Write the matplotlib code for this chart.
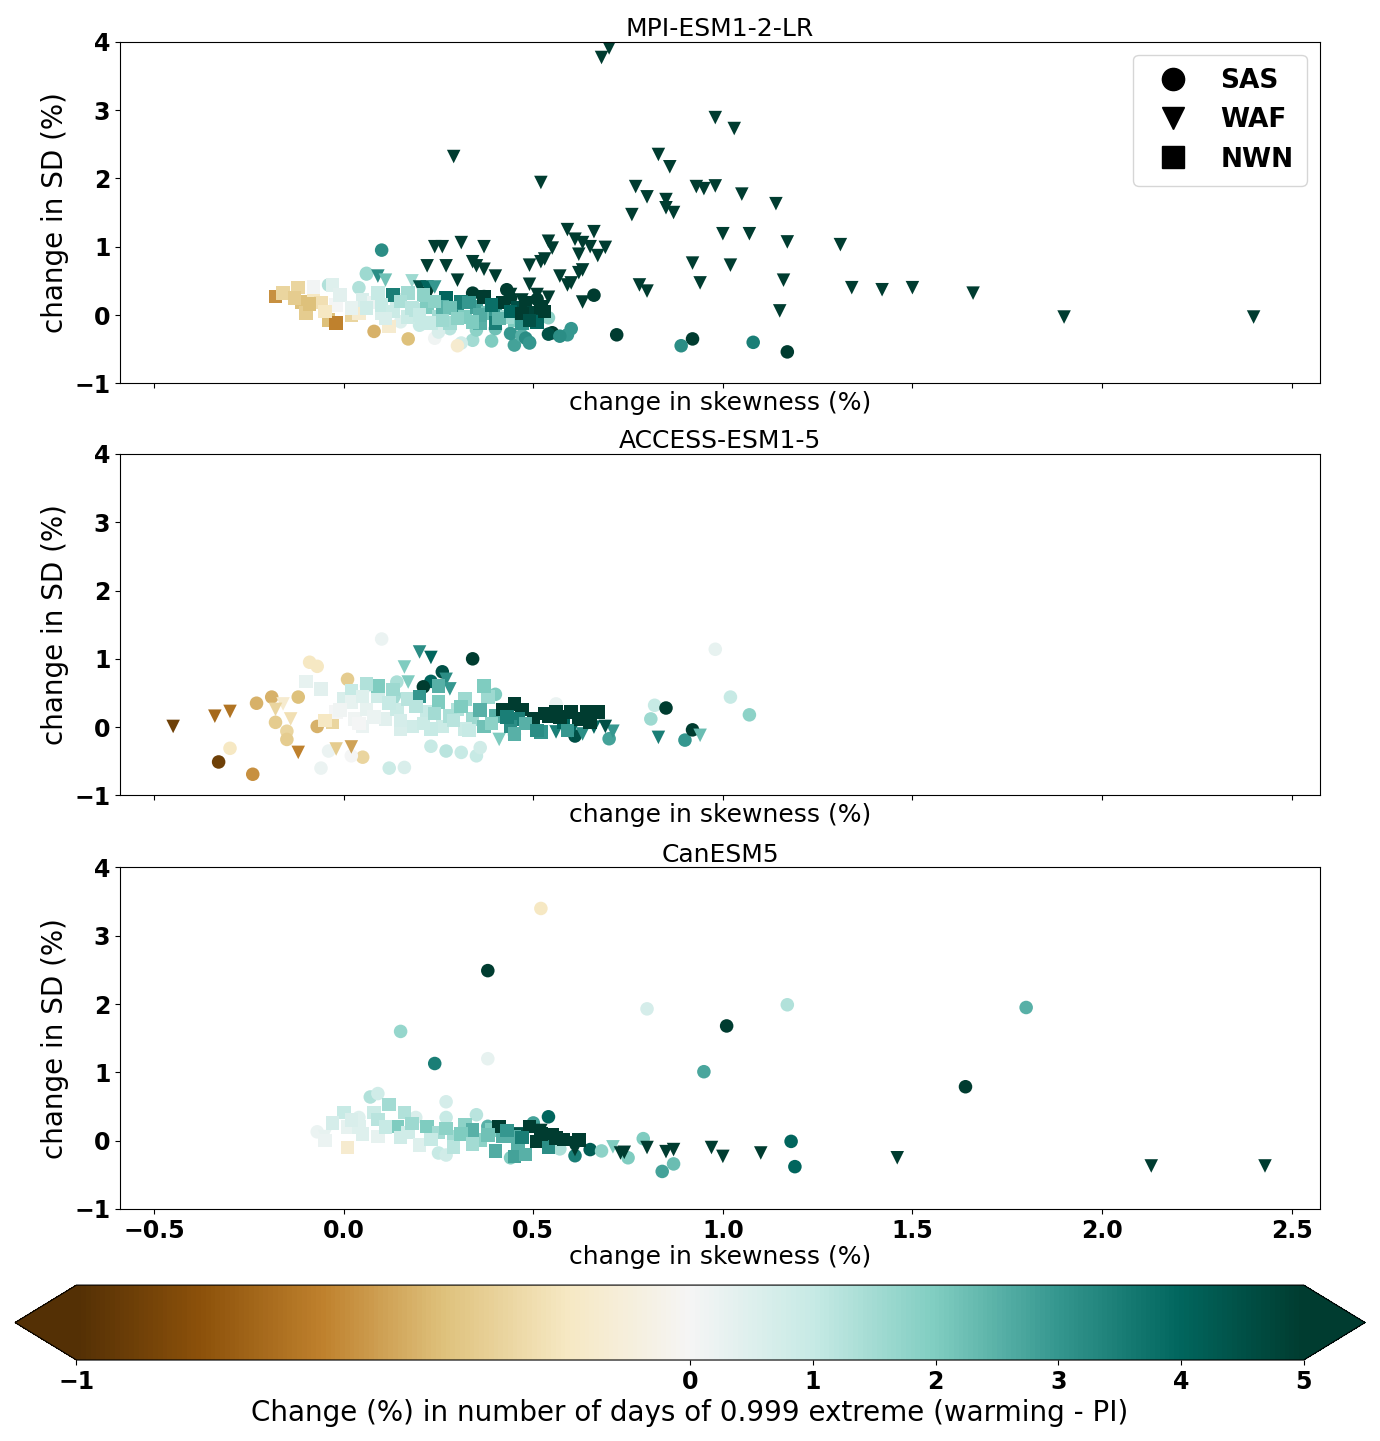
import matplotlib
matplotlib.use("Agg")
import matplotlib.pyplot as plt
import matplotlib.colors as mcolors
from matplotlib.lines import Line2D
import numpy as np

# ---------------- data ----------------
models = ["MPI-ESM1-2-LR", "ACCESS-ESM1-5", "CanESM5"]
regions = ["SAS", "WAF", "NWN"]

# MPI-ESM1-2-LR
mpi_sas_x = [0.10, 0.06, 0.34, 0.37, 0.43, 0.44, 0.51, 0.66, 0.72, 0.92, 0.89, 1.08, 1.17, 0.59, 0.55,
             0.54, 0.49, 0.45, 0.44, 0.39, 0.34, 0.31, 0.30, 0.24, 0.17, 0.08, 0.54, -0.04, 0.04, 0.06,
             0.20, 0.28, 0.35, 0.40, 0.15, 0.47, 0.60, 0.25, 0.48, 0.49, 0.57]
mpi_sas_y = [0.95, 0.60, 0.32, 0.27, 0.37, 0.25, 0.23, 0.29, -0.29, -0.35, -0.45, -0.40, -0.54, -0.29, -0.26,
             -0.28, -0.40, -0.44, -0.27, -0.38, -0.37, -0.41, -0.45, -0.34, -0.35, -0.24, -0.04, 0.44, 0.40, 0.61,
             -0.15, -0.20, -0.22, -0.20, -0.10, -0.30, -0.20, -0.25, -0.34, -0.41, -0.31]
mpi_sas_c = [3.2, 1.6, 5.5, 5.5, 5.5, 5.5, 5.5, 5.5, 5.5, 5.0, 3.2, 3.5, 5.5, 3.0, 5.5,
             4.5, 3.0, 2.8, 3.0, 2.0, 1.5, 0.8, -0.15, 0.1, -0.4, -0.45, 1.8, 1.3, 1.3, 1.6,
             1.0, 1.2, 1.8, 2.2, 0.5, 2.5, 3.0, 0.6, 3.2, 3.0, 3.2]

mpi_waf_x = [0.70, 0.68, 0.29, 0.52, 0.98, 1.03, 0.83, 0.86, 0.77, 0.80, 0.76, 0.85, 0.85, 0.87, 0.93,
             0.95, 0.98, 1.05, 1.14, 1.00, 1.07, 1.02, 1.17, 1.31, 0.92, 0.94, 1.16, 1.15, 1.34, 1.42,
             1.50, 1.66, 1.90, 2.40, 0.78, 0.80, 0.59, 0.66, 0.63, 0.61, 0.54, 0.55, 0.53, 0.52, 0.57,
             0.65, 0.69, 0.67, 0.62, 0.62, 0.63, 0.60, 0.59, 0.63, 0.54, 0.49, 0.49, 0.37, 0.31, 0.24,
             0.26, 0.22, 0.27, 0.30, 0.35, 0.37, 0.40, 0.34, 0.23, 0.21, 0.31, 0.09, 0.11, 0.18, 0.20,
             0.22, 0.24, 0.44, 0.47, 0.51]
mpi_waf_y = [3.91, 3.77, 2.32, 1.94, 2.89, 2.73, 2.35, 2.17, 1.88, 1.73, 1.47, 1.69, 1.57, 1.50, 1.88,
             1.85, 1.89, 1.77, 1.63, 1.19, 1.19, 0.73, 1.07, 1.03, 0.76, 0.47, 0.51, 0.06, 0.40, 0.37,
             0.40, 0.32, -0.03, -0.03, 0.44, 0.35, 1.25, 1.22, 1.06, 1.11, 1.08, 0.98, 0.82, 0.78, 0.57,
             1.00, 0.99, 0.87, 0.89, 0.62, 0.66, 0.47, 0.44, 0.19, 0.26, 0.45, 0.73, 1.00, 1.06, 1.00,
             1.00, 0.72, 0.72, 0.51, 0.72, 0.67, 0.57, 0.78, 0.37, 0.32, 0.19, 0.57, 0.51, 0.50, 0.41,
             0.41, 0.41, 0.30, 0.22, 0.30]
mpi_waf_c = [5.5] * 71 + [3.2, 2.2, 1.6, 4.5, 4.0, 3.0, 5.5, 5.5, 5.5]

mpi_nwn_x = [-0.18, -0.16, -0.12, -0.11, -0.10, -0.08, -0.06, -0.04, -0.02, -0.02, 0.02, 0.04,
             -0.08, -0.03, -0.01, 0.05, 0.08, 0.10, 0.12, 0.09, 0.14, 0.17, 0.19, 0.13,
             0.22, 0.25, 0.27, 0.30, 0.32, 0.35, 0.38, 0.37, 0.40, 0.42, 0.45, 0.46, 0.48, 0.50,
             0.52, 0.51, 0.47, 0.23, 0.28, 0.31, 0.26, 0.21, 0.17, 0.40, 0.36, 0.43,
             0.06, 0.10, 0.13, 0.15, 0.18, 0.20, 0.24, 0.28, 0.30, 0.33, 0.36, 0.39,
             0.41, 0.44, 0.47, 0.49, 0.53, 0.34, 0.26, 0.11, 0.02, -0.05, -0.13, -0.09]
mpi_nwn_y = [0.27, 0.32, 0.40, 0.19, 0.03, 0.29, 0.18, -0.07, -0.12, 0.15, 0.00, 0.03,
             0.41, 0.44, 0.29, 0.22, 0.18, 0.03, -0.17, 0.32, 0.22, -0.03, 0.07, 0.29,
             0.12, -0.03, 0.25, 0.07, -0.03, 0.12, 0.03, 0.26, 0.07, 0.18, -0.07, 0.10, 0.18, 0.03,
             0.12, -0.10, -0.12, -0.12, -0.12, 0.19, 0.12, 0.29, 0.32, -0.12, -0.12, -0.03,
             0.10, 0.15, 0.05, 0.20, 0.10, 0.00, 0.20, 0.10, -0.05, 0.18, 0.00, 0.15,
             -0.05, 0.05, 0.02, -0.08, 0.05, -0.10, -0.08, -0.05, 0.10, 0.05, 0.25, 0.16]
mpi_nwn_c = [-0.55, -0.3, -0.3, -0.4, -0.35, -0.2, -0.25, -0.4, -0.6, 0.0, -0.3, -0.15,
             0.05, 0.5, 0.4, 0.6, 0.2, 0.6, -0.15, 1.0, 0.8, 0.9, 1.2, 3.5,
             2.0, 1.5, 4.0, 3.2, 2.0, 2.8, 2.2, 5.5, 3.0, 5.5, 2.0, 4.5, 5.5, 4.8,
             5.5, 4.0, 3.0, 1.0, 1.5, 3.5, 2.5, 1.8, 1.5, 3.5, 2.5, 1.6,
             0.8, 1.0, 0.9, 1.4, 1.2, 1.0, 1.8, 2.2, 1.8, 3.0, 2.6, 3.8,
             2.4, 4.0, 5.5, 4.5, 5.5, 2.0, 1.6, 0.6, 0.3, -0.2, -0.35, -0.4]

# ACCESS-ESM1-5
acc_sas_x = [-0.33, -0.24, -0.30, -0.23, -0.19, -0.09, -0.07, -0.12, -0.18, -0.15, -0.15, -0.07,
             0.01, 0.05, -0.04, -0.06, 0.12, 0.16, 0.10, 0.34, 0.26, 0.23, 0.21, 0.27,
             0.31, 0.35, 0.36, 0.23, 0.02, 0.56, 0.70, 0.61, 0.98, 1.02, 1.07, 0.82,
             0.81, 0.90, 0.85, 0.92, 0.06, 0.14, 0.40, 0.45]
acc_sas_y = [-0.51, -0.69, -0.31, 0.35, 0.44, 0.95, 0.89, 0.44, 0.07, -0.06, -0.18, 0.01,
             0.70, -0.44, -0.35, -0.60, -0.60, -0.59, 1.29, 1.00, 0.81, 0.67, 0.59, -0.35,
             -0.37, -0.42, -0.30, -0.28, -0.42, 0.34, -0.17, -0.13, 1.14, 0.44, 0.18, 0.32,
             0.12, -0.19, 0.28, -0.04, 0.60, 0.66, 0.48, -0.10]
acc_sas_c = [-0.9, -0.55, -0.2, -0.45, -0.45, -0.2, -0.2, -0.4, -0.35, -0.3, -0.35, -0.45,
             -0.35, -0.3, 0.2, 0.2, 0.9, 0.6, 0.2, 5.5, 4.5, 4.0, 5.5, 1.2,
             1.0, 1.0, 0.8, 1.0, 0.0, 0.2, 2.8, 4.5, 0.3, 1.0, 1.8, 1.0,
             1.6, 3.0, 5.5, 5.5, 0.5, 1.4, 2.0, 1.5]

acc_waf_x = [-0.45, -0.34, -0.30, -0.12, -0.16, -0.18, -0.14, -0.02, 0.02, 0.20, 0.23, 0.16,
             0.17, 0.14, 0.27, 0.28, 0.56, 0.60, 0.63, 0.66, 0.71, 0.69, 0.41, 0.83, 0.94]
acc_waf_y = [0.01, 0.16, 0.23, -0.37, 0.34, 0.26, 0.12, -0.32, -0.29, 1.10, 1.02, 0.88,
             0.66, 0.41, 0.70, 0.56, -0.07, -0.07, -0.10, 0.00, -0.06, 0.01, -0.18, -0.15, -0.12]
acc_waf_c = [-0.9, -0.7, -0.65, -0.6, -0.15, -0.3, -0.25, -0.35, -0.5, 3.2, 4.0, 2.0,
             2.0, 1.5, 3.2, 3.0, 3.5, 4.0, 3.2, 4.0, 3.0, 4.5, 2.0, 3.5, 2.3]

acc_nwn_x = [-0.10, -0.06, -0.03, -0.02, 0.00, 0.02, 0.03, 0.06, 0.09, 0.09, 0.11, 0.14,
             0.17, 0.18, 0.20, 0.22, 0.25, 0.26, 0.30, 0.32, 0.34, 0.37, 0.38, 0.40,
             0.42, 0.45, 0.47, 0.46, 0.50, 0.52, 0.54, 0.56, 0.58, 0.60, 0.64, 0.67,
             0.65, 0.44, 0.28, 0.32, 0.15, 0.23, 0.05, -0.05, 0.02, 0.13, 0.06, 0.37, 0.25,
             0.05, 0.08, 0.12, 0.15, 0.19, 0.21, 0.24, 0.29, 0.31, 0.33, 0.36, 0.39,
             0.43, 0.48, 0.53, 0.57, 0.62, 0.59, 0.51, 0.45, -0.01, 0.04]
acc_nwn_y = [0.67, 0.56, 0.07, 0.22, 0.41, 0.53, 0.12, 0.26, 0.45, 0.60, 0.12, 0.26,
             0.41, 0.01, 0.45, 0.22, 0.37, 0.01, 0.26, 0.41, 0.12, 0.01, 0.44, 0.16,
             0.26, 0.34, 0.26, 0.12, 0.12, -0.07, 0.16, 0.22, 0.07, 0.22, 0.22, 0.22,
             0.07, 0.01, 0.16, -0.03, -0.03, -0.03, 0.01, 0.10, 0.37, 0.55, 0.63, 0.60, 0.60,
             0.45, 0.15, 0.35, 0.10, 0.30, 0.05, 0.20, 0.10, 0.30, -0.05, 0.25, 0.05,
             0.15, 0.05, 0.20, 0.15, 0.12, -0.05, -0.05, -0.10, 0.25, 0.05]
acc_nwn_c = [0.3, 0.4, -0.3, 0.0, 0.6, 1.0, 0.1, 0.3, 0.8, 2.0, 0.4, 0.9,
             1.2, 0.8, 3.0, 1.0, 2.0, 0.9, 1.3, 1.6, 1.6, 2.2, 1.6, 2.5,
             5.5, 5.5, 5.5, 3.5, 5.5, 3.0, 5.5, 5.5, 4.0, 5.5, 5.5, 5.5,
             5.5, 3.2, 1.4, 0.9, 0.6, 1.0, 0.2, -0.2, 0.3, 1.6, 1.3, 2.0, 2.5,
             0.5, 0.2, 1.0, 0.7, 1.2, 0.9, 1.5, 1.2, 2.0, 1.0, 2.5, 1.8,
             3.5, 2.5, 5.5, 5.5, 5.5, 3.0, 3.2, 2.5, 0.1, 0.0]

# CanESM5
can_sas_x = [0.52, 0.38, 0.15, 0.24, 0.38, 0.80, 1.17, 1.80, 1.01, 0.95, 1.64, 1.18,
             1.19, 0.84, 0.87, 0.79, 0.75, 0.65, 0.68, 0.61, 0.54, 0.50, 0.57, -0.07,
             0.07, 0.09, 0.27, 0.27, 0.35, 0.38, 0.04, 0.19, 0.25, 0.27, 0.44]
can_sas_y = [3.40, 2.49, 1.60, 1.13, 1.20, 1.93, 1.99, 1.95, 1.68, 1.01, 0.79, -0.01,
             -0.38, -0.45, -0.34, 0.03, -0.25, -0.13, -0.15, -0.22, 0.35, 0.26, -0.12, 0.13,
             0.64, 0.69, 0.57, 0.34, 0.38, 0.21, 0.34, 0.34, -0.18, -0.21, -0.25]
can_sas_c = [-0.2, 5.5, 1.7, 3.5, 0.3, 0.7, 1.3, 2.5, 5.0, 2.7, 5.5, 4.0,
             4.0, 2.8, 2.3, 2.0, 2.0, 4.2, 1.8, 3.5, 4.0, 2.8, 1.4, 0.2,
             1.3, 0.8, 0.7, 1.0, 1.2, 2.5, 0.5, 0.6, 1.0, 0.8, 2.0]

can_waf_x = [0.52, 0.61, 0.71, 0.73, 0.74, 0.80, 0.85, 0.87, 0.97, 1.00, 1.10, 1.46,
             2.13, 2.43, 0.60, -0.05, 0.46]
can_waf_y = [0.15, -0.13, -0.09, -0.18, -0.17, -0.10, -0.16, -0.13, -0.10, -0.23, -0.18, -0.25,
             -0.37, -0.37, -0.03, 0.06, 0.10]
can_waf_c = [5.5, 5.5, 2.0, 5.5, 5.5, 5.5, 5.5, 5.5, 5.5, 5.5, 5.5, 5.5,
             5.5, 5.5, 5.5, 0.3, 4.5]

can_nwn_x = [0.00, -0.03, 0.01, 0.01, 0.04, 0.08, 0.09, 0.12, 0.16, 0.14, 0.17, 0.20,
             0.22, 0.25, 0.29, 0.32, 0.29, 0.36, 0.39, 0.42, 0.46, 0.45, 0.49, 0.51,
             0.55, 0.54, 0.41, 0.34, 0.09, -0.05, 0.62, 0.56, 0.45, 0.48,
             0.05, 0.11, 0.15, 0.18, 0.23, 0.27, 0.31, 0.34, 0.38, 0.43, 0.47, 0.52,
             0.58, 0.40, 0.02]
can_nwn_y = [0.41, 0.26, 0.20, -0.10, 0.20, 0.41, 0.31, 0.53, 0.41, 0.21, 0.12, -0.06,
             0.21, 0.12, 0.06, 0.23, -0.09, 0.01, 0.16, 0.06, -0.09, -0.23, 0.21, -0.01,
             0.09, -0.09, 0.21, 0.16, 0.06, 0.00, 0.01, 0.04, 0.06, -0.20,
             0.10, 0.20, 0.05, 0.25, 0.02, 0.18, 0.10, -0.05, 0.08, 0.15, 0.05, 0.10,
             0.02, -0.15, 0.30]
can_nwn_c = [1.0, 0.7, 0.3, -0.15, 0.5, 0.9, 1.2, 1.5, 1.3, 2.0, 0.8, 0.5,
             2.0, 1.5, 1.5, 1.8, 1.2, 1.8, 2.0, 2.5, 2.5, 2.8, 5.5, 5.5,
             5.5, 3.2, 5.5, 2.5, 0.3, 0.2, 5.5, 5.5, 2.5, 2.5,
             0.5, 1.0, 0.8, 1.6, 1.0, 1.8, 2.0, 1.5, 2.2, 3.0, 3.5, 5.5,
             5.5, 2.6, 0.6]

data = {
    "MPI-ESM1-2-LR": [(mpi_sas_x, mpi_sas_y, mpi_sas_c), (mpi_waf_x, mpi_waf_y, mpi_waf_c),
                      (mpi_nwn_x, mpi_nwn_y, mpi_nwn_c)],
    "ACCESS-ESM1-5": [(acc_sas_x, acc_sas_y, acc_sas_c), (acc_waf_x, acc_waf_y, acc_waf_c),
                      (acc_nwn_x, acc_nwn_y, acc_nwn_c)],
    "CanESM5": [(can_sas_x, can_sas_y, can_sas_c), (can_waf_x, can_waf_y, can_waf_c),
                (can_nwn_x, can_nwn_y, can_nwn_c)],
}
markers = ["o", "v", "s"]

# ---------------- plot ----------------
plt.rcParams["font.size"] = 18
norm = mcolors.TwoSlopeNorm(vmin=-1, vcenter=0, vmax=5)
cmap = plt.get_cmap("BrBG")

fig = plt.figure(figsize=(13.8, 14.41), dpi=100)
tops = [0.971, 0.685, 0.398]
axes = []
for i, model in enumerate(models):
    ax = fig.add_axes([0.087, tops[i] - 0.237, 0.8695, 0.237],
                      sharex=axes[0] if axes else None)
    axes.append(ax)
    for (x, y, c), m in zip(data[model], markers):
        sc = ax.scatter(x, y, c=c, cmap=cmap, norm=norm, marker=m, s=95, linewidths=0)
    ax.set_ylim(-1, 4)
    ax.set_yticks([-1, 0, 1, 2, 3, 4])
    ax.set_title(model, fontsize=18, pad=4)
    ax.set_ylabel("change in SD (%)", fontsize=20)
    ax.set_xlabel("change in skewness (%)", fontsize=18, labelpad=2)
    ax.tick_params(labelsize=17)
    for lab in ax.get_yticklabels() + ax.get_xticklabels():
        lab.set_fontweight("bold")
    if i < 2:
        ax.tick_params(labelbottom=False)

axes[0].set_xlim(-0.59, 2.575)
axes[2].set_xticks([-0.5, 0.0, 0.5, 1.0, 1.5, 2.0, 2.5])
for lab in axes[2].get_xticklabels():
    lab.set_fontweight("bold")

handles = [Line2D([], [], marker=m, color="k", linestyle="none", markersize=16) for m in markers]
axes[0].legend(handles, regions, loc="upper right", prop={"weight": "bold", "size": 19},
               handletextpad=0.8, borderpad=0.5)

cax = fig.add_axes([0.0109, 0.0562, 0.9783, 0.052])
cb = fig.colorbar(sc, cax=cax, orientation="horizontal", extend="both")
cb.set_ticks([-1, 0, 1, 2, 3, 4, 5])
cb.ax.tick_params(labelsize=17)
for lab in cb.ax.get_xticklabels():
    lab.set_fontweight("bold")
cb.set_label("Change (%) in number of days of 0.999 extreme (warming - PI)", fontsize=20)

fig.savefig("out.png", dpi=100)
